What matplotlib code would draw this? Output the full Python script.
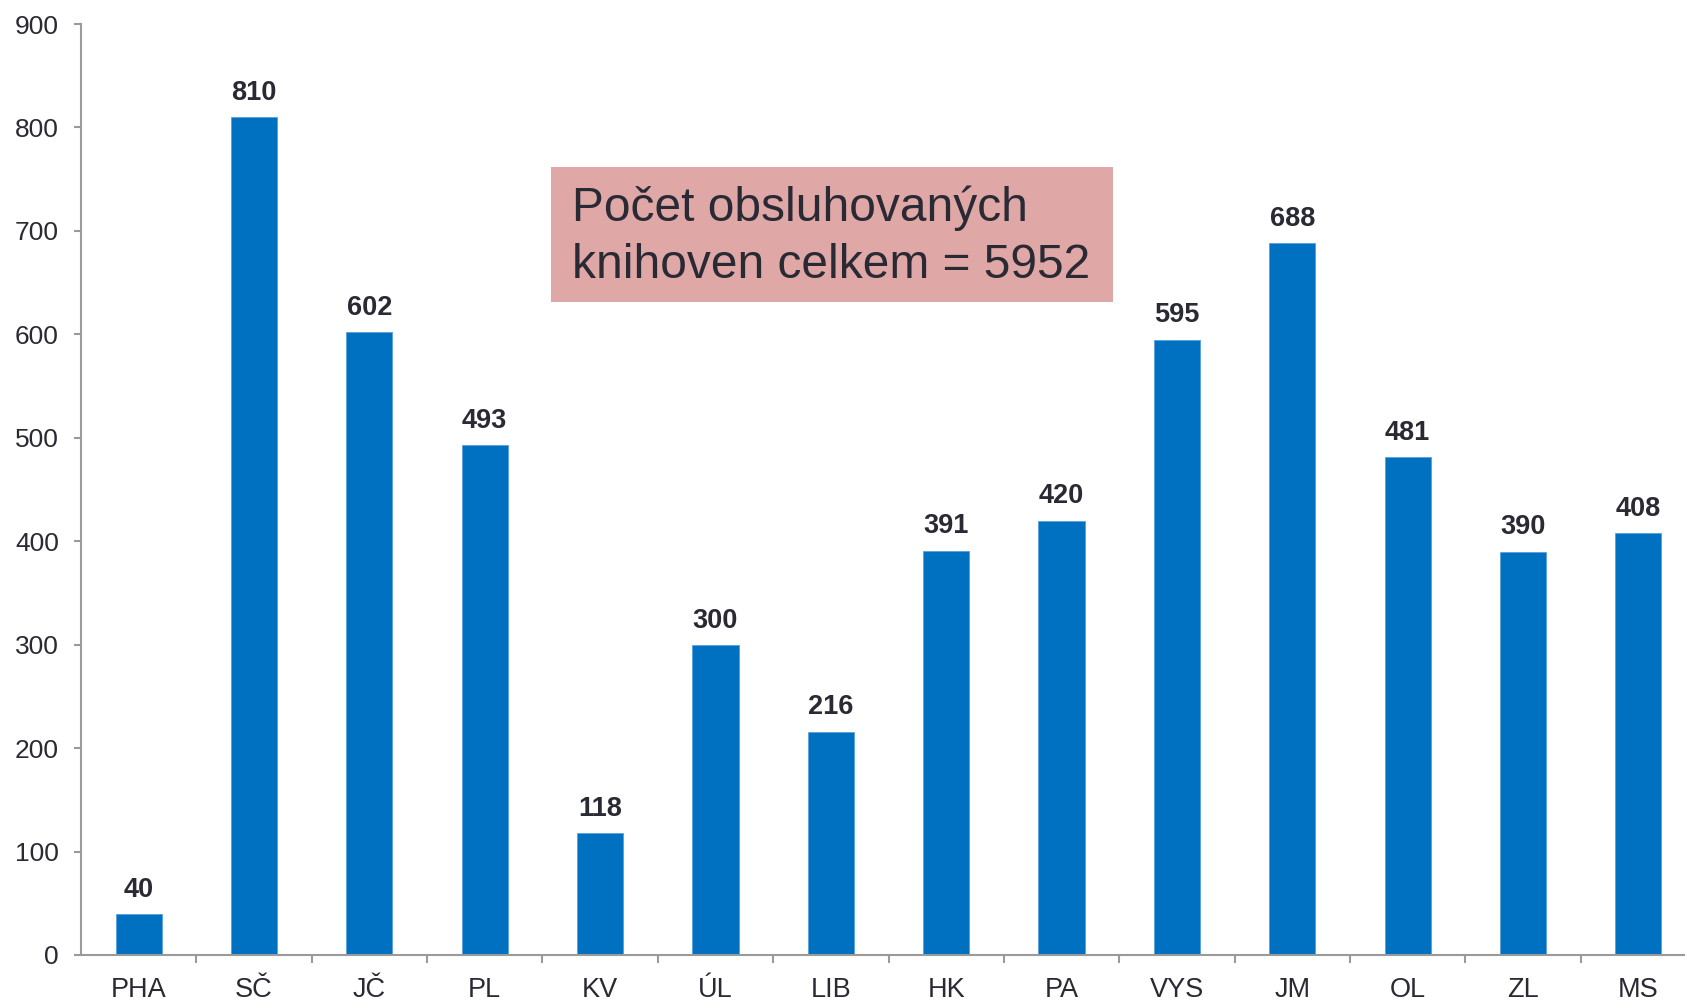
import matplotlib.pyplot as plt
from matplotlib.patches import Rectangle

plt.rcParams['font.family'] = ['Liberation Sans', 'DejaVu Sans']

regions = ['PHA', 'SČ', 'JČ', 'PL', 'KV', 'ÚL', 'LIB', 'HK', 'PA', 'VYS', 'JM', 'OL', 'ZL', 'MS']
libraries = [40, 810, 602, 493, 118, 300, 216, 391, 420, 595, 688, 481, 390, 408]
total_text = 'Počet obsluhovaných\nknihoven celkem = 5952'

bar_color = '#0070C0'
text_color = '#2a2a35'
axis_color = '#9a9a9a'

fig = plt.figure(figsize=(16.85, 10), dpi=100)
ax = fig.add_axes([81 / 1685, 0.045, (1696 - 81) / 1685, 0.931])

x = range(len(regions))
bars = ax.bar(x, libraries, width=0.4, color=bar_color, edgecolor='#5aa0dc', linewidth=0.6)

for xi, val in zip(x, libraries):
    ax.annotate(str(val), (xi, val), xytext=(0, 8), textcoords='offset points',
                ha='center', va='bottom', fontsize=19.5, fontweight='bold', color=text_color)

ax.set_xlim(-0.5, len(regions) - 0.5)
ax.set_ylim(0, 900)
ax.set_yticks(range(0, 901, 100))

# category ticks sit between the bars
ax.set_xticks([i + 0.5 for i in range(len(regions))])
ax.set_xticklabels([])
ax.set_xticks(list(x), minor=True)
ax.set_xticklabels(regions, minor=True)
ax.tick_params(axis='x', which='minor', length=0, pad=15.5, labelsize=19.5, labelcolor=text_color)
ax.tick_params(axis='x', which='major', length=6, width=1.5, color=axis_color)
ax.tick_params(axis='y', length=5, width=1.5, color=axis_color, pad=11, labelsize=19, labelcolor=text_color)

for side in ['top', 'right']:
    ax.spines[side].set_visible(False)
for side in ['left', 'bottom']:
    ax.spines[side].set_color(axis_color)
    ax.spines[side].set_linewidth(1.5)

# summary box
box = Rectangle((551 / 1685, 1 - 302 / 1000), (1113 - 551) / 1685, (302 - 167) / 1000,
                transform=fig.transFigure, facecolor='#E0A7A7', edgecolor='none', zorder=5)
fig.patches.append(box)
fig.text(572 / 1685, 1 - 237 / 1000, total_text, ha='left', va='center', fontsize=34.5,
         color=text_color, linespacing=1.33, zorder=6)

fig.savefig('out.png', dpi=100)
